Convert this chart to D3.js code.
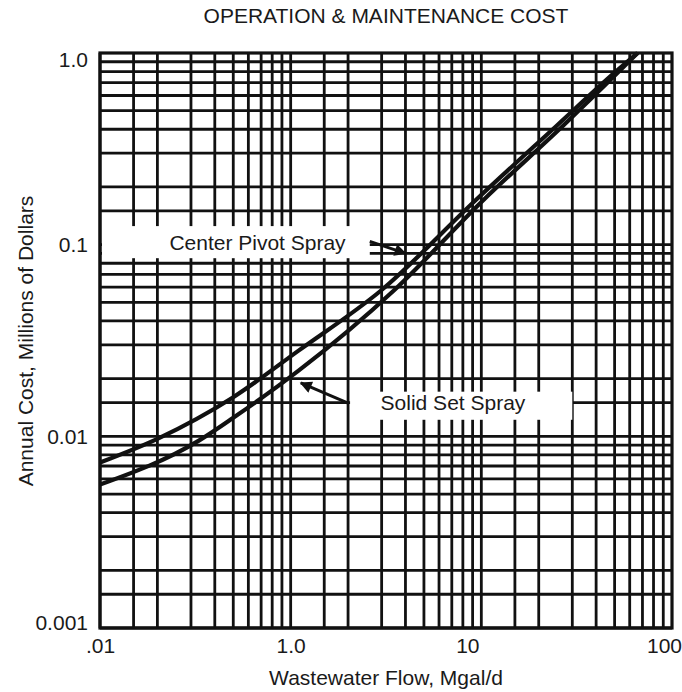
<!DOCTYPE html>
<html>
<head>
<meta charset="utf-8">
<script src="https://cdn.jsdelivr.net/npm/d3@7"></script>
<style>
  body { margin: 0; background: #fff; }
  text { font-family: "Liberation Sans", Arial, Helvetica, sans-serif; fill: #1a1a1a; }
</style>
</head>
<body>
<div id="chart"></div>
<script>
// axis ticks (the printed x labels are as on the original figure)
var xTickValues = [0.1, 1, 10, 100]
var xTickLabels = [".01", "1.0", "10", "100"]
var yTickValues = [0.001, 0.01, 0.1, 1]
var yTickLabels = ["0.001", "0.01", "0.1", "1.0"]
var gridSteps = [1, 1.5, 2, 3, 4, 5, 6, 7, 8, 9]

// curves: flow (Mgal/d) vs annual cost (million $)
var pivotFlow = [0.1, 0.2, 0.5, 1.1, 3.0, 9.3, 25, 50, 66]
var pivotCost = [0.0073, 0.0097, 0.016, 0.028, 0.058, 0.17, 0.42, 0.79, 1.0]
var solidFlow = [0.1, 0.33, 0.5, 1.1, 3.5, 10.2, 27, 52, 66]
var solidCost = [0.0056, 0.0095, 0.0125, 0.022, 0.058, 0.17, 0.42, 0.79, 1.0]

// label boxes and arrows, in data units
var pivotLabel = {text: "Center Pivot Spray", x: 0.67, y: 0.102, box: [0.1, 2.6, 0.085, 0.125], from: [2.6, 0.104], to: [4.0, 0.09]}
var solidLabel = {text: "Solid Set Spray", x: 7.1, y: 0.0149, box: [2.0, 30, 0.0122, 0.0171], from: [2.0, 0.0149], to: [1.13, 0.019]}

var width = 682, height = 692
var margin = {top: 53, right: 10, bottom: 64, left: 100}

var x = d3.scaleLog().domain([0.1, 100]).range([margin.left, width - margin.right])
var y = d3.scaleLog().domain([0.001, 1]).range([height - margin.bottom, margin.top])

var svg = d3.select('#chart').append('svg').attr('width', width).attr('height', height)

// grid lines
var xGrid = []
xTickValues.slice(0, -1).forEach(function(d) { gridSteps.forEach(function(s) { xGrid.push(d * s) }) })
var yGrid = []
yTickValues.slice(0, -1).forEach(function(d) { gridSteps.forEach(function(s) { yGrid.push(d * s) }) })

var grid = svg.append('g').attr('stroke', '#111').attr('stroke-width', 2.8)
grid.selectAll('.vline').data(xGrid).join('line').attr('class', 'vline')
  .attr('x1', d => x(d)).attr('x2', d => x(d))
  .attr('y1', y.range()[0]).attr('y2', y.range()[1])
grid.selectAll('.hline').data(yGrid).join('line').attr('class', 'hline')
  .attr('y1', d => y(d)).attr('y2', d => y(d))
  .attr('x1', x.range()[0]).attr('x2', x.range()[1])

// white label boxes that blank out the grid
var labels = [pivotLabel, solidLabel]
svg.append('g').selectAll('rect').data(labels).join('rect')
  .attr('x', d => x(d.box[0]) + 2)
  .attr('width', d => x(d.box[1]) - x(d.box[0]) - 2)
  .attr('y', d => y(d.box[3]))
  .attr('height', d => y(d.box[2]) - y(d.box[3]))
  .attr('fill', '#fff')

// frame
svg.append('rect')
  .attr('x', x.range()[0]).attr('y', y.range()[1])
  .attr('width', x.range()[1] - x.range()[0]).attr('height', y.range()[0] - y.range()[1])
  .attr('fill', 'none').attr('stroke', '#111').attr('stroke-width', 3.2)

// curves
var line = d3.line().x(d => x(d[0])).y(d => y(d[1])).curve(d3.curveMonotoneX)
var series = [d3.zip(pivotFlow, pivotCost), d3.zip(solidFlow, solidCost)]
svg.append('g').selectAll('path').data(series).join('path')
  .attr('d', line)
  .attr('fill', 'none').attr('stroke', '#111').attr('stroke-width', 4.2)

// arrows
svg.append('defs').append('marker')
  .attr('id', 'head').attr('viewBox', '0 0 10 10').attr('refX', 9).attr('refY', 5)
  .attr('markerWidth', 5).attr('markerHeight', 4).attr('orient', 'auto')
  .attr('markerUnits', 'strokeWidth')
  .append('path').attr('d', 'M0,0L10,5L0,10z').attr('fill', '#111')

svg.append('g').selectAll('line').data(labels).join('line')
  .attr('x1', d => x(d.from[0])).attr('y1', d => y(d.from[1]))
  .attr('x2', d => x(d.to[0])).attr('y2', d => y(d.to[1]))
  .attr('stroke', '#111').attr('stroke-width', 3)
  .attr('marker-end', 'url(#head)')

svg.append('g').selectAll('text').data(labels).join('text')
  .attr('x', d => x(d.x)).attr('y', d => y(d.y))
  .attr('text-anchor', 'middle').attr('dy', '0.35em')
  .style('font-size', '21px')
  .text(d => d.text)

// axes
var xAxis = svg.append('g').attr('transform', 'translate(0,' + y.range()[0] + ')')
  .call(d3.axisBottom(x).tickValues(xTickValues).tickFormat((d, i) => xTickLabels[i]).tickSize(0).tickPadding(10))
xAxis.select('.domain').remove()
xAxis.selectAll('text').style('font-size', '21px').attr('font-family', null).attr('fill', null)
  .attr('dx', d => d === 10 ? -14 : d === 100 ? -8 : 0)

var yAxis = svg.append('g').attr('transform', 'translate(' + x.range()[0] + ',0)')
  .call(d3.axisLeft(y).tickValues(yTickValues).tickFormat((d, i) => yTickLabels[i]).tickSize(0).tickPadding(12))
yAxis.select('.domain').remove()
yAxis.selectAll('text').style('font-size', '21px').attr('fill', null)
  .attr('y', d => d === 1 ? 7 : d === 0.001 ? -5 : 0)

var cx = (x.range()[0] + x.range()[1]) / 2

svg.append('text').attr('x', cx).attr('y', 23).attr('text-anchor', 'middle')
  .style('font-size', '21px').text('OPERATION & MAINTENANCE COST')

svg.append('text').attr('x', cx).attr('y', 685).attr('text-anchor', 'middle')
  .style('font-size', '21px').text('Wastewater Flow, Mgal/d')

svg.append('text').attr('transform', 'translate(33,341) rotate(-90)').attr('text-anchor', 'middle')
  .style('font-size', '21px').text('Annual Cost, Millions of Dollars')
</script>
</body>
</html>
